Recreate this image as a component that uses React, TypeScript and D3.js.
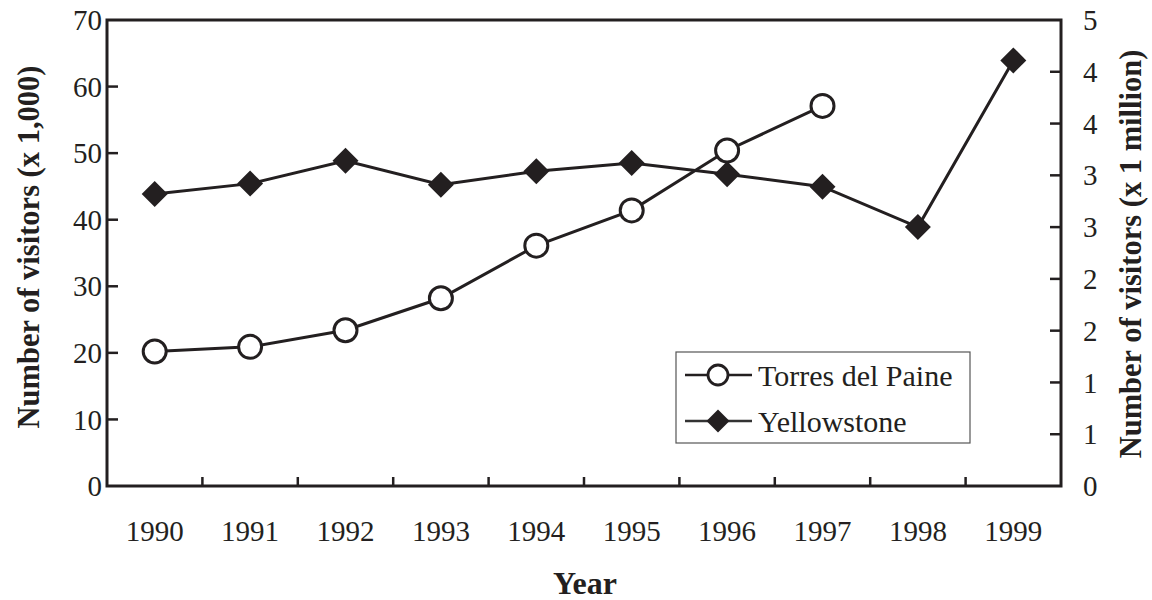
import * as d3 from 'd3';
import React, { useEffect } from 'react';

// values
const years = ['1990', '1991', '1992', '1993', '1994', '1995', '1996', '1997', '1998', '1999'];
const torresValues = [20.2, 20.9, 23.4, 28.2, 36.1, 41.4, 50.4, 57.1]; // x 1,000 (1990-1997)
const yellowstoneValues = [2.82, 2.92, 3.14, 2.91, 3.04, 3.12, 3.01, 2.89, 2.5, 4.11]; // x 1 million
const leftTicks = [0, 10, 20, 30, 40, 50, 60, 70];
const rightTicks = [0, 0.5, 1, 1.5, 2, 2.5, 3, 3.5, 4, 4.5];
const seriesNames = ['Torres del Paine', 'Yellowstone'];

const FONT = '"Liberation Serif", "DejaVu Serif", serif';

const App = () => {
  useEffect(() => {
    document.body.style.margin = '0';
  }, []);

  const left = 107;
  const right = 1061;
  const top = 20;
  const bottom = 486;

  const x = d3.scaleBand().domain(years).range([left, right]).paddingInner(0).paddingOuter(0);
  const yLeft = d3.scaleLinear().domain([0, 70]).range([bottom, top]);
  const yRight = d3.scaleLinear().domain([0, 4.5]).range([bottom, top]);
  const cx = (i: number) => (x(years[i]) as number) + x.bandwidth() / 2;

  const torresLine = d3.line<number>()
    .x((d, i) => cx(i))
    .y((d) => yLeft(d));
  const yellowLine = d3.line<number>()
    .x((d, i) => cx(i))
    .y((d) => yRight(d));

  const diamond = (px: number, py: number, r: number) =>
    `M${px},${py - r}L${px + r},${py}L${px},${py + r}L${px - r},${py}Z`;

  // excel-style rounding of the secondary axis labels
  const fmtRight = (v: number) => String(Math.round(v));
  const tickLen = 11;

  return (
    <svg width={1152} height={600} style={{ display: 'block', background: '#fff' }} fontFamily={FONT}>
      {/* frame */}
      <rect x={left} y={top} width={right - left} height={bottom - top} fill="none" stroke="#231f20" strokeWidth={3} />

      {/* left axis ticks */}
      {leftTicks.map((t) => (
        <g key={'l' + t}>
          {t > 0 && t < 70 && (
            <line x1={left} x2={left + tickLen} y1={yLeft(t)} y2={yLeft(t)} stroke="#231f20" strokeWidth={2.5} />
          )}
          <text x={102} y={yLeft(t)} dy="0.35em" textAnchor="end" fontSize={29} fill="#231f20">{t}</text>
        </g>
      ))}

      {/* right axis ticks */}
      {rightTicks.map((t) => (
        <g key={'r' + t}>
          {t > 0 && t < 4.5 && (
            <line x1={right - tickLen} x2={right} y1={yRight(t)} y2={yRight(t)} stroke="#231f20" strokeWidth={2.5} />
          )}
          <text x={1083} y={yRight(t)} dy="0.35em" textAnchor="start" fontSize={29} fill="#231f20">{fmtRight(t)}</text>
        </g>
      ))}

      {/* x axis ticks between categories */}
      {years.map((yr, i) => (
        <g key={yr}>
          {i > 0 && (
            <line x1={x(yr)} x2={x(yr)} y1={bottom} y2={bottom - 9} stroke="#231f20" strokeWidth={2.5} />
          )}
          <text x={cx(i)} y={541} textAnchor="middle" fontSize={29} fill="#231f20">{yr}</text>
        </g>
      ))}

      {/* axis titles */}
      <text x={585} y={594} textAnchor="middle" fontSize={32} fontWeight="bold" fill="#231f20">Year</text>
      <text transform="translate(39,247) rotate(-90)" textAnchor="middle" fontSize={30.5} fontWeight="bold" fill="#231f20">
        Number of visitors (x 1,000)
      </text>
      <text transform="translate(1141,254) rotate(-90)" textAnchor="middle" fontSize={30.5} fontWeight="bold" fill="#231f20">
        Number of visitors (x 1 million)
      </text>

      {/* Yellowstone */}
      <path d={yellowLine(yellowstoneValues) || ''} fill="none" stroke="#231f20" strokeWidth={3} />
      {yellowstoneValues.map((v, i) => (
        <path key={'y' + i} d={diamond(cx(i), yRight(v), 13)} fill="#231f20" />
      ))}

      {/* Torres del Paine */}
      <path d={torresLine(torresValues) || ''} fill="none" stroke="#231f20" strokeWidth={3} />
      {torresValues.map((v, i) => (
        <circle key={'t' + i} cx={cx(i)} cy={yLeft(v)} r={11.5} fill="#fff" stroke="#231f20" strokeWidth={3} />
      ))}

      {/* legend */}
      <rect x={676} y={352} width={294} height={91} fill="#fff" stroke="#555" strokeWidth={1.2} />
      <line x1={685} x2={752} y1={375} y2={375} stroke="#231f20" strokeWidth={2.5} />
      <circle cx={718} cy={375} r={10} fill="#fff" stroke="#231f20" strokeWidth={2.8} />
      <text x={758} y={375} dy="0.35em" fontSize={30} fill="#231f20">{seriesNames[0]}</text>
      <line x1={685} x2={752} y1={421} y2={421} stroke="#333" strokeWidth={2.5} />
      <path d={diamond(718, 421, 11.5)} fill="#231f20" />
      <text x={758} y={421} dy="0.35em" fontSize={30} fill="#231f20">{seriesNames[1]}</text>
    </svg>
  );
};

export default App;
